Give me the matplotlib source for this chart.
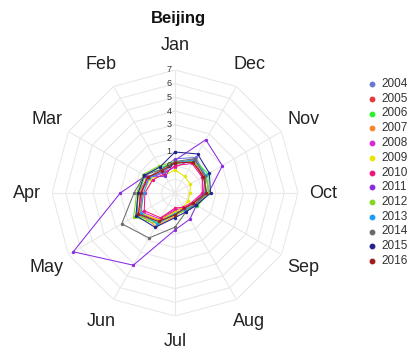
import numpy as np
import matplotlib
matplotlib.use("Agg")
import matplotlib.pyplot as plt
from matplotlib.lines import Line2D

months = ["Jan", "Feb", "Mar", "Apr", "May", "Jun", "Jul", "Aug", "Sep", "Oct", "Nov", "Dec"]
years = ["2004", "2005", "2006", "2007", "2008", "2009", "2010",
         "2011", "2012", "2013", "2014", "2015", "2016"]
colors = ["#6a78d2", "#e33b3b", "#2cf02c", "#f5892a", "#d62ad6", "#e6e600", "#f0147f",
          "#8a2be2", "#84d61f", "#1e9bf5", "#6b6b6b", "#23238e", "#a01c1c"]

v2004 = [0.5, 0.0, 0.3, 0.7, 1.2, 0.4, -0.6, -0.5, -0.2, 0.5, 0.6, 1.0]
v2005 = [0.3, -0.3, 0.4, 0.4, 1.0, 0.3, -0.7, -0.7, -0.4, 0.2, 0.5, 0.6]
v2006 = [0.1, 0.2, 0.5, 0.7, 1.3, 0.5, -0.5, -0.6, -0.1, 0.4, 0.8, 0.8]
v2007 = [0.2, -0.1, 0.3, 0.6, 1.0, 0.8, -0.3, -0.6, -0.4, 0.3, 0.4, 0.7]
v2008 = [-0.1, -0.3, 0.2, 0.5, 0.8, 0.2, -0.8, -0.7, -0.5, 0.1, 0.3, 0.9]
v2009 = [-0.3, -0.5, 0.1, 0.3, 0.9, 0.3, -0.6, -0.8, -0.9, -0.9, -0.7, -0.6]
v2010 = [0.0, -0.4, -0.1, 0.2, 0.6, 0.1, -0.9, -0.8, -0.6, 0.0, 0.3, 0.5]
v2011 = [0.4, -0.6, 0.5, 2.0, 6.6, 4.1, 0.7, 0.2, -0.2, 0.45, 2.0, 2.5]
v2012 = [0.3, 0.3, 0.7, 0.8, 1.5, 0.6, -0.4, -0.5, -0.3, 0.5, 0.6, 0.7]
v2013 = [0.2, -0.2, 0.2, 0.3, 0.9, 0.6, -0.5, -0.6, -0.3, 0.2, 0.6, 0.8]
v2014 = [0.3, 0.0, 0.6, 1.0, 2.5, 1.8, 0.5, -0.4, -0.3, 0.3, 0.5, 0.9]
v2015 = [1.0, 0.2, 0.6, 0.7, 1.3, 0.9, -0.2, -0.4, -0.2, 0.6, 0.9, 1.3]
v2016 = [0.2, -0.1, 0.3, 0.5, 1.1, 0.4, -0.4, -0.7, -0.5, 0.3, 0.4, 0.6]
series = [v2004, v2005, v2006, v2007, v2008, v2009, v2010,
          v2011, v2012, v2013, v2014, v2015, v2016]

tick_values = [0, 1, 2, 3, 4, 5, 6, 7]
rmin, rmax = -2, 7

W, H = 414, 355
fig = plt.figure(figsize=(W / 100, H / 100), dpi=100)
cx, cy, R = 175, 193, 123
ax = fig.add_axes([(cx - R) / W, (H - cy - R) / H, 2 * R / W, 2 * R / H], projection="polar")
ax.set_theta_offset(np.pi / 2)
ax.set_ylim(rmin, rmax)
ax.grid(False)
ax.set_xticks([])
ax.set_yticks([])
ax.spines["polar"].set_visible(False)
ax.patch.set_alpha(0)

n = len(months)
theta = np.arange(n) * 2 * np.pi / n
theta_c = np.append(theta, theta[0])

gcol = "#e8e8e8"
for r in range(rmin + 1, rmax + 1):
    ax.plot(theta_c, [r] * (n + 1), color=gcol, lw=0.8, zorder=1)
for t in theta:
    ax.plot([t, t], [rmin, rmax], color=gcol, lw=0.8, zorder=1)

for vals, c in zip(series, colors):
    vc = np.append(vals, vals[0])
    ax.plot(theta_c, vc, color=c, lw=0.75, marker="o", ms=1.4, zorder=3)

# radial tick labels along Jan axis
for v in tick_values:
    rp = (v - rmin) / (rmax - rmin) * R
    fig.text((cx - 6) / W, (H - (cy - rp)) / H, str(v), ha="center", va="center",
             fontsize=6.5, color="#333333", family="Liberation Sans", zorder=5)

# month labels
lab_r = rmin + 148 / R * (rmax - rmin)
for t, m in zip(theta, months):
    ax.text(t, lab_r, m, ha="center", va="center", fontsize=13,
            family="Liberation Sans", color="#222222", clip_on=False)

fig.text(178 / W, 1 - 19 / H, "Beijing", ha="center", va="center", fontsize=12,
         fontweight="bold", family="Liberation Sans", color="#111111")

# legend
for i, (y, c) in enumerate(zip(years, colors)):
    py = 84 + 14.75 * i
    fig.add_artist(Line2D([372 / W], [1 - py / H], marker="o", ms=3.2, color=c,
                          linestyle="none", transform=fig.transFigure))
    fig.text(381 / W, 1 - py / H, y, ha="left", va="center", fontsize=8.5,
             family="Liberation Sans", color="#333333")

fig.savefig("out.png", dpi=100)
